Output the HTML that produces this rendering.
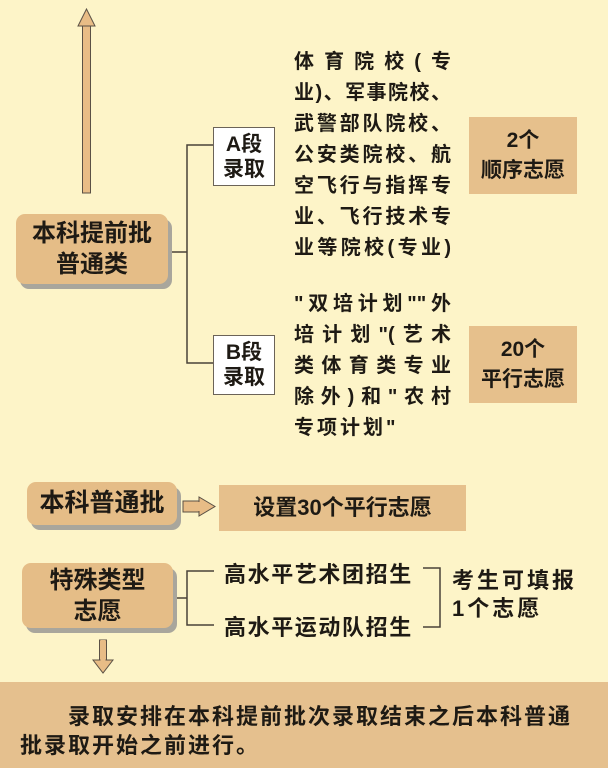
<!DOCTYPE html>
<html><head><meta charset="utf-8"><style>
*{margin:0;padding:0;box-sizing:border-box}
body{width:608px;height:768px;background:#fdf4c8;position:relative;overflow:hidden;font-family:"Liberation Sans","Noto Sans CJK SC",sans-serif;color:#1e1a14}
.a{position:absolute}
.box{position:absolute;background:#e5bd87;border-radius:9px;box-shadow:4px 5px 0 #a9a69c;display:flex;align-items:center;justify-content:center;text-align:center;font-size:24px;font-weight:bold;line-height:31px}
.sq{position:absolute;background:#e6c08c;display:flex;align-items:center;justify-content:center;text-align:center;font-size:21px;font-weight:bold;line-height:30px}
.wb{position:absolute;background:#fff;border:1.5px solid #6b6358;display:flex;align-items:center;justify-content:center;font-size:21px;font-weight:bold;line-height:25px;text-align:center}
.col div{height:31px;line-height:31px;font-size:20px;font-weight:bold;text-align:justify;text-align-last:justify;width:157px}
.t{position:absolute;font-size:22px;font-weight:bold;white-space:nowrap}
</style></head><body>
<svg class="a" style="left:0;top:0" width="608" height="768">
<g fill="#e8bc86" stroke="#5a5045" stroke-width="1">
<rect x="82.5" y="26" width="8" height="167"/>
<polygon points="78,26 95,26 86.5,9"/>
<rect x="183" y="501" width="18" height="11" />
<polygon points="199,497 199,516 215,506.5"/>
<rect x="99.5" y="640" width="7" height="21"/>
<polygon points="93,660 113,660 103,673"/>
</g>
<rect x="184" y="502" width="17" height="9" fill="#e8bc86"/>
<rect x="100.5" y="640" width="5" height="21" fill="#e8bc86"/>
<g stroke="#4a4238" stroke-width="1.5" fill="none">
<polyline points="168,252 187,252"/>
<polyline points="213,145 187,145 187,363 213,363"/>
<polyline points="173,598 187,598"/>
<polyline points="214,571 187,571 187,625 214,625"/>
<polyline points="423,568 440,568 440,627 423,627"/>
</g>
</svg>
<div class="box" style="left:16px;top:214px;width:152px;height:70px">本科提前批<br>普通类</div>
<div class="wb" style="left:213px;top:127px;width:62px;height:59px">A段<br>录取</div>
<div class="wb" style="left:213px;top:335px;width:62px;height:60px">B段<br>录取</div>
<div class="a col" style="left:294px;top:47px">
<div>体育院校(专</div><div>业)、军事院校、</div><div>武警部队院校、</div><div>公安类院校、航</div><div>空飞行与指挥专</div><div>业、飞行技术专</div><div>业等院校(专业)</div>
</div>
<div class="a col" style="left:294px;top:289px">
<div>"双培计划""外</div><div>培计划"(艺术</div><div>类体育类专业</div><div>除外)和"农村</div><div style="text-align-last:left;letter-spacing:3px">专项计划"</div>
</div>
<div class="sq" style="left:469px;top:117px;width:108px;height:77px">2个<br>顺序志愿</div>
<div class="sq" style="left:469px;top:326px;width:108px;height:77px">20个<br>平行志愿</div>
<div class="box" style="left:27px;top:482px;width:150px;height:43px;font-size:25px">本科普通批</div>
<div class="sq" style="left:219px;top:485px;width:247px;height:46px;font-size:22px">设置30个平行志愿</div>
<div class="box" style="left:22px;top:563px;width:151px;height:65px">特殊类型<br>志愿</div>
<div class="t" style="left:224px;top:557px;letter-spacing:1.6px">高水平艺术团招生</div>
<div class="t" style="left:224px;top:610px;letter-spacing:1.6px">高水平运动队招生</div>
<div class="t" style="left:452px;top:567px;letter-spacing:3px;line-height:28px">考生可填报<br>1个志愿</div>
<div class="a" style="left:0;top:682px;width:608px;height:86px;background:#e5c08e"></div>
<div class="t" style="left:20px;top:702px;font-size:22px;line-height:29px;letter-spacing:2px">　　录取安排在本科提前批次录取结束之后本科普通<br>批录取开始之前进行。</div>
</body></html>
